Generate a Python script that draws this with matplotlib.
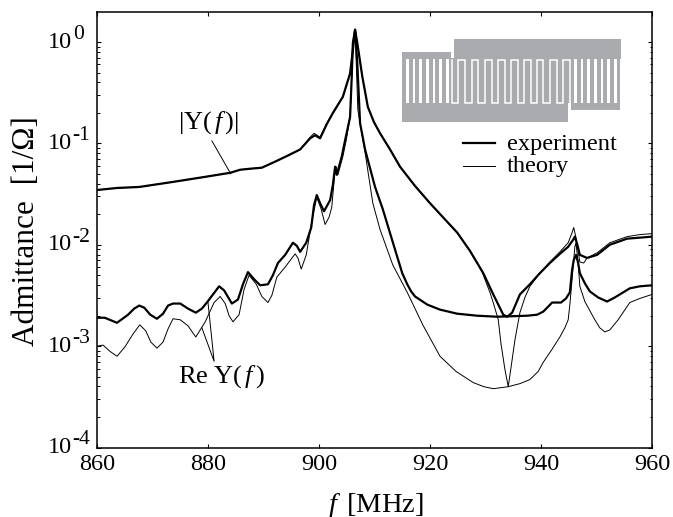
import numpy as np
import matplotlib.pyplot as plt
from matplotlib.patches import Rectangle
from matplotlib.ticker import LogLocator, NullFormatter

plt.rcParams['font.family'] = ['Liberation Serif', 'DejaVu Serif']
plt.rcParams['mathtext.fontset'] = 'custom'
plt.rcParams['mathtext.rm'] = 'Liberation Serif'
plt.rcParams['mathtext.it'] = 'Liberation Serif:italic'

# all admittance values are log10(Y)
f_abs_exp = [860, 863.6, 867.6, 873.7, 879.5, 884, 885.8, 887.6, 889.7, 892.1, 894.4, 896.6, 898.4, 899.3, 900.2, 901.4, 902.5,
             904.3, 905.6, 906.1, 906.5, 906.9, 907.8, 908.8, 909.9, 911, 912.8, 914.6, 917.3, 920, 922.7, 924.9, 927.2, 929.6,
             931.4, 933.2, 933.9, 934.8, 936.2, 938, 939.8, 941.6, 943.4, 944.9, 945.8, 946.1, 946.5, 947, 948.3, 950.1, 952.4,
             955.5, 957.8, 960]
abs_exp = [-1.46, -1.44, -1.43, -1.38, -1.33, -1.29, -1.26, -1.25, -1.24, -1.18, -1.12, -1.06, -0.95, -0.92, -0.95, -0.81, -0.70,
           -0.54, -0.31, -0.08, 0.12, -0.01, -0.34, -0.64, -0.79, -0.90, -1.06, -1.23, -1.42, -1.59, -1.75, -1.88, -2.06, -2.28,
           -2.49, -2.69, -2.71, -2.67, -2.49, -2.39, -2.28, -2.18, -2.09, -2.02, -1.95, -1.92, -1.99, -2.10, -2.13, -2.10, -2.00,
           -1.94, -1.93, -1.92]

f_abs_th = [860, 863.6, 867.6, 873.7, 879.5, 884, 885.8, 887.6, 889.7, 892.1, 894.4, 896.6, 898.4, 899.1, 900.2, 901.4, 902.8,
            904.3, 905.6, 906.1, 906.5, 906.9, 907.8, 908.8, 909.9, 911, 912.8, 914.6, 917.3, 920, 922.7, 924.9, 927.2, 929.4,
            930.8, 931.5, 932.3, 932.8, 933.5, 934.1, 934.6, 935.3, 936.2, 937.1, 938, 939.8, 941.6, 943.4, 944.9, 945.6, 945.9,
            946.3, 946.7, 947, 947.7, 948.3, 950.1, 952.4, 955.5, 957.8, 960]
abs_th = [-1.46, -1.44, -1.43, -1.38, -1.33, -1.29, -1.26, -1.25, -1.24, -1.18, -1.12, -1.06, -0.94, -0.90, -0.94, -0.80, -0.68,
          -0.54, -0.31, -0.08, 0.13, -0.01, -0.34, -0.64, -0.79, -0.90, -1.06, -1.23, -1.42, -1.59, -1.75, -1.88, -2.06, -2.27,
          -2.47, -2.59, -2.74, -2.98, -3.23, -3.40, -3.21, -2.94, -2.67, -2.52, -2.41, -2.28, -2.17, -2.07, -1.98, -1.88, -1.83,
          -1.93, -2.07, -2.17, -2.18, -2.13, -2.08, -1.98, -1.92, -1.90, -1.89]

f_re_exp = [860, 861.4, 863.6, 865.6, 866.7, 867.6, 868.5, 869.6, 870.8, 871.9, 872.8, 873.7, 875, 876.4, 877.8, 878.9, 879.8,
            880.9, 882, 882.9, 884.3, 885.4, 886.3, 887.2, 888.3, 889.4, 890.8, 891.7, 892.6, 893.9, 895.3, 896, 896.6, 897.7,
            898.6, 899.1, 899.6, 900.2, 900.9, 902, 902.5, 902.9, 903.2, 904.1, 904.7, 905.6, 905.9, 906.1, 906.5, 906.9, 907.4,
            908.3, 910.1, 911.5, 914.1, 915, 915.9, 916.6, 917.3, 919.5, 921.8, 924.9, 928.5, 932.1, 937.5, 939.3, 940.4, 941.3, 942,
            942.7, 943.6, 944.5, 945.2, 945.6, 945.9, 946.3, 946.7, 947, 947.9, 948.8, 950.3, 951.9, 953.3, 956, 957.8, 960]
re_exp = [-2.72, -2.72, -2.77, -2.69, -2.63, -2.60, -2.62, -2.69, -2.73, -2.68, -2.60, -2.58, -2.58, -2.63, -2.67, -2.63, -2.57,
          -2.49, -2.41, -2.45, -2.58, -2.54, -2.39, -2.27, -2.34, -2.40, -2.39, -2.30, -2.18, -2.10, -1.98, -2.01, -2.07, -1.98,
          -1.83, -1.61, -1.51, -1.59, -1.67, -1.56, -1.41, -1.23, -1.31, -1.13, -0.97, -0.74, -0.34, -0.01, 0.12, -0.21, -0.80,
          -1.06, -1.43, -1.65, -2.12, -2.28, -2.39, -2.46, -2.51, -2.59, -2.64, -2.68, -2.70, -2.71, -2.70, -2.69, -2.66, -2.61, -2.57,
          -2.57, -2.57, -2.53, -2.47, -2.25, -2.15, -2.10, -2.18, -2.28, -2.38, -2.46, -2.52, -2.56, -2.52, -2.43, -2.41, -2.40]

f_re_th = [860, 861.1, 862.3, 863.6, 865, 866.5, 867.7, 868.8, 869.7, 870.8, 871.9, 872.8, 873.7, 875, 876.4, 877.8, 879.5, 881.1,
           882.2, 883.1, 883.8, 884.5, 885.6, 886.5, 887.4, 888.7, 889.7, 890.8, 891.5, 892.4, 893.9, 895.7, 896.2, 896.8, 897.7,
           898.7, 899.6, 900.4, 901.1, 901.8, 902.3, 902.9, 903.1, 903.4, 904.3, 904.9, 905.6, 905.9, 906.1, 906.5, 906.7, 907,
           908.3, 909.7, 911, 913.3, 915.9, 918.7, 921.8, 924.7, 927.8, 929.7, 931.4, 934.1, 936.2, 938, 939.5, 940.4, 942,
           943.4, 944.3, 944.9, 945.2, 945.6, 946.1, 946.3, 946.7, 947, 947.9, 949.7, 950.6, 951.5, 952.4, 953.9, 956, 957.8, 960]
re_th = [-3.00, -2.99, -3.05, -3.10, -3.01, -2.88, -2.79, -2.85, -2.96, -3.02, -2.96, -2.83, -2.73, -2.74, -2.80, -2.91, -2.76, -2.57,
         -2.51, -2.58, -2.70, -2.76, -2.69, -2.44, -2.30, -2.39, -2.51, -2.57, -2.50, -2.32, -2.22, -2.09, -2.13, -2.24, -2.10,
         -1.77, -1.53, -1.65, -1.80, -1.73, -1.63, -1.26, -1.23, -1.31, -1.13, -0.97, -0.74, -0.34, -0.01, 0.12, -0.18, -0.67,
         -1.09, -1.59, -1.85, -2.20, -2.47, -2.79, -3.10, -3.25, -3.36, -3.40, -3.42, -3.40, -3.37, -3.33, -3.25, -3.16, -3.03,
         -2.91, -2.82, -2.74, -2.59, -2.34, -2.02, -1.98, -2.18, -2.41, -2.56, -2.74, -2.82, -2.86, -2.84, -2.74, -2.57, -2.53, -2.49]

xticks = [860, 880, 900, 920, 940, 960]
ydecades = [0, -1, -2, -3, -4]

# leader lines of the curve labels, (f, log10 Y)
lead_abs_f = [880.7, 884.1]
lead_abs_y = [-0.975, -1.30]
lead_re_f = [880.0, 881.1, 878.9]
lead_re_y = [-2.57, -3.15, -2.82]

# meander positions for the little electrode sketch, in sketch pixels
finger_left = [406, 412.7, 419.4, 426, 432.7, 439.4, 446]
finger_right = [574, 580.5, 587, 594, 600.5, 607, 614]
meander_x = [452.3, 458.3, 465.3, 471.7, 478.3, 485, 491.7, 498.3, 505, 511, 517.7, 524, 530.7, 536.7, 543.3, 550, 556.7, 563.3, 570]


def main():
    fig = plt.figure(figsize=(6.73, 5.17), dpi=100)
    ax = fig.add_axes([97 / 673, 1 - 447.5 / 517, 555 / 673, 435.5 / 517])

    ax.semilogy(f_abs_th, 10.0 ** np.array(abs_th), 'k-', lw=0.7)
    ax.semilogy(f_re_th, 10.0 ** np.array(re_th), 'k-', lw=0.7)
    ax.semilogy(f_abs_exp, 10.0 ** np.array(abs_exp), 'k-', lw=1.6)
    ax.semilogy(f_re_exp, 10.0 ** np.array(re_exp), 'k-', lw=1.6)

    ax.set_xlim(860, 960)
    ax.set_ylim(1e-4, 1.977)
    ax.set_xticks(xticks)
    ax.yaxis.set_major_locator(LogLocator(base=10, numticks=10))
    ax.yaxis.set_minor_locator(LogLocator(base=10, subs=range(2, 10), numticks=10))
    ax.yaxis.set_major_formatter(NullFormatter())
    ax.yaxis.set_minor_formatter(NullFormatter())
    ax.tick_params(which='major', direction='in', length=3.2, width=0.8, top=True, right=True, labelsize=17.5, pad=5)
    ax.tick_params(which='minor', direction='in', length=1.8, width=0.7, top=True, right=True)
    for s in ax.spines.values():
        s.set_linewidth(1.1)

    # y tick labels, the exponents sit high and are nearly full size
    for d in ydecades:
        ax.annotate('10', xy=(0, 10.0 ** d), xycoords=('axes fraction', 'data'), xytext=(-18, 0),
                    textcoords='offset points', ha='right', va='center', fontsize=17.5)
        ax.annotate(str(d), xy=(0, 10.0 ** d), xycoords=('axes fraction', 'data'), xytext=(-17.5, 2.2),
                    textcoords='offset points', ha='left', va='baseline', fontsize=15.5)

    fig.text(376 / 673, 1 - 512 / 517, r'$\mathit{f}\ \,$[MHz]', fontsize=20.5, ha='center', va='baseline')
    fig.text(27 / 673, 1 - 231 / 517, 'Admittance  [1/Ω]', fontsize=22.5, rotation=90, ha='center', va='center')

    # curve labels
    ax.text(0.146, 0.745, r'|Y($\,\mathit{f}\,$)|', transform=ax.transAxes, fontsize=19, ha='left', va='center')
    ax.text(0.225, 0.162, r'Re Y($\,\mathit{f}\,$)', transform=ax.transAxes, fontsize=19, ha='center', va='center')
    ax.plot(lead_abs_f, 10.0 ** np.array(lead_abs_y), 'k-', lw=0.7)
    ax.plot(lead_re_f, 10.0 ** np.array(lead_re_y), 'k-', lw=0.7)

    # legend
    ax.plot([0.659, 0.717], [0.699, 0.699], 'k-', lw=1.6, transform=ax.transAxes)
    ax.plot([0.659, 0.717], [0.646, 0.646], 'k-', lw=0.7, transform=ax.transAxes)
    ax.text(0.739, 0.683, 'experiment', transform=ax.transAxes, fontsize=17.6, va='baseline')
    ax.text(0.739, 0.633, 'theory', transform=ax.transAxes, fontsize=17.6, va='baseline')

    # electrode sketch on top, axes in image pixels
    sk = fig.add_axes([395 / 673, 1 - 130 / 517, 235 / 673, 100 / 517])
    sk.set_xlim(395, 630)
    sk.set_ylim(130, 30)
    sk.axis('off')
    grey = '#a9abae'
    sk.add_patch(Rectangle((454, 39), 167, 20, color=grey, lw=0))
    sk.add_patch(Rectangle((402, 52), 49, 7, color=grey, lw=0))
    sk.add_patch(Rectangle((402, 58), 218, 45, color=grey, lw=0))
    sk.add_patch(Rectangle((402, 103), 166, 19, color=grey, lw=0))
    sk.add_patch(Rectangle((571, 103), 49, 7, color=grey, lw=0))
    for x in finger_left + finger_right:
        sk.add_patch(Rectangle((x, 59), 2.6, 44, color='white', lw=0))
    mx = []
    my = []
    for i, x in enumerate(meander_x):
        if i % 2 == 0:
            mx += [x, x]
            my += [60, 102.5]
        else:
            mx += [x, x]
            my += [102.5, 60]
    sk.plot(mx, my, color='white', lw=1.1, solid_joinstyle='miter')

    fig.savefig('out.png', dpi=100)


if __name__ == '__main__':
    main()
